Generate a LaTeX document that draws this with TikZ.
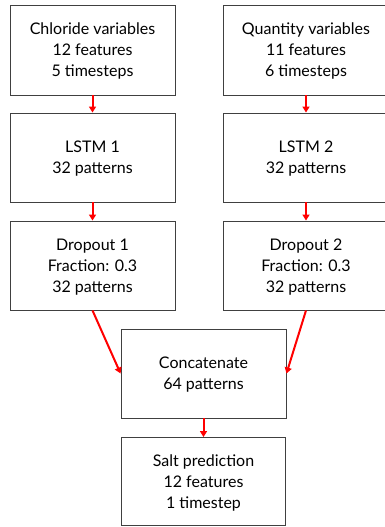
\documentclass[tikz,border=0pt]{standalone}
\usepackage{fontspec}
\setmainfont{Lato}
\usetikzlibrary{arrows.meta}
\begin{document}
\begin{tikzpicture}[x=1pt,y=-1pt,
  box/.style={draw=black!75, line width=0.9pt, minimum width=165pt, minimum height=89pt,
    align=center, inner sep=0pt, font=\fontsize{16}{21}\selectfont, text depth=-6pt},
  flow/.style={draw=red, line width=2pt, -{Triangle[width=7pt,length=6pt]}}]
\useasboundingbox (0,0) rectangle (384,527);
\node[box, minimum height=90pt] (a) at (92.5,50) {Chloride variables\\12 features\\5 timesteps};
\node[box, minimum height=90pt] (b) at (306,50) {Quantity variables\\11 features\\6 timesteps};
\node[box] (l1) at (92.5,157.5) {LSTM 1\\32 patterns};
\node[box] (l2) at (306,157.5) {LSTM 2\\32 patterns};
\node[box] (d1) at (92.5,265.5) {Dropout 1\\Fraction: 0.3\\32 patterns};
\node[box] (d2) at (306,265.5) {Dropout 2\\Fraction: 0.3\\32 patterns};
\node[box] (c) at (203.5,373.5) {Concatenate\\64 patterns};
\node[box, minimum width=164pt, minimum height=88pt] (s) at (203.5,481.5) {Salt prediction\\12 features\\1 timestep};
\draw[flow] (a) -- (l1);
\draw[flow] (b) -- (l2);
\draw[flow] (l1) -- (d1);
\draw[flow] (l2) -- (d2);
\draw[flow] (d1.south) -- (c.west);
\draw[flow] (d2.south) -- (c.east);
\draw[flow] (c) -- (s);
\end{tikzpicture}
\end{document}
